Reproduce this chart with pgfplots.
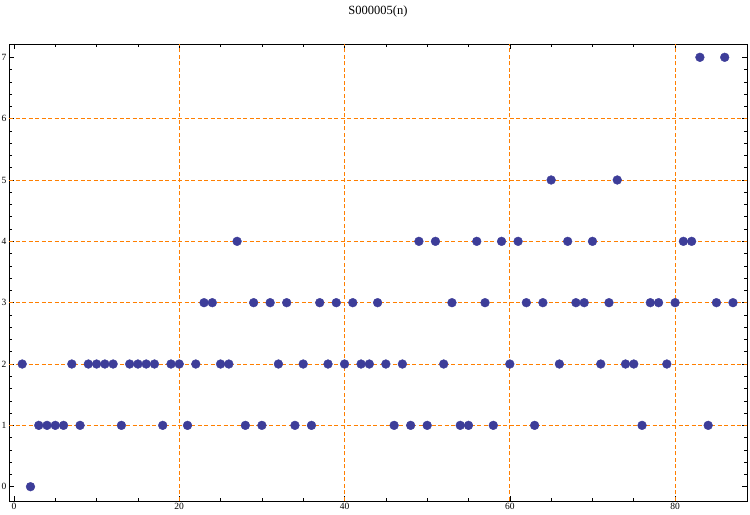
\documentclass[border=0pt]{standalone}
\usepackage{fontspec}
\setmainfont{Liberation Serif}
\usepackage{pgfplots}
\pgfplotsset{compat=1.18}
\definecolor{ptblue}{RGB}{61,61,153}
\definecolor{gridorange}{RGB}{255,127,0}
\begin{document}
\begin{tikzpicture}
\begin{axis}[
  name=ax,
  scale only axis,
  width=738bp, height=457bp,
  xmin=-0.6, xmax=88.7,
  ymin=-0.233, ymax=7.217,
  xtick={0,20,40,60,80},
  ytick={0,1,...,7},
  minor x tick num=3,
  minor y tick num=4,
  tick align=inside,
  major tick length=5bp,
  minor tick length=3bp,
  tick style={black, line width=0.6bp},
  axis line style={black, line width=0.8bp},
  xtick pos=both, ytick pos=both,
  xticklabel pos=lower, yticklabel pos=left,
  /pgf/number format/assume math mode=true,
  tick label style={font=\fontsize{9.5bp}{11bp}\selectfont, black},
  xticklabel style={yshift=1bp},
  yticklabel style={xshift=1bp},
  extra x ticks={20,40,60,80},
  extra x tick labels={},
  extra y ticks={1,2,3,4,5,6},
  extra y tick labels={},
  extra tick style={grid=major, major tick length=0pt,
    major grid style={gridorange, line width=0.9bp, dash pattern=on 4bp off 2.5bp}},
  title={S000005(n)},
  title style={font=\fontsize{12.5bp}{14bp}\selectfont, at={(axis description cs:0.5,1)}, anchor=center, yshift=27bp},
  clip=false,
]
\addplot[only marks, mark=*, mark size=4.4bp, mark options={draw=ptblue, fill=ptblue}] coordinates {
(1,2)(2,0)(3,1)(4,1)(5,1)(6,1)(7,2)(8,1)(9,2)(10,2)
(11,2)(12,2)(13,1)(14,2)(15,2)(16,2)(17,2)(18,1)(19,2)(20,2)
(21,1)(22,2)(23,3)(24,3)(25,2)(26,2)(27,4)(28,1)(29,3)(30,1)
(31,3)(32,2)(33,3)(34,1)(35,2)(36,1)(37,3)(38,2)(39,3)(40,2)
(41,3)(42,2)(43,2)(44,3)(45,2)(46,1)(47,2)(48,1)(49,4)(50,1)
(51,4)(52,2)(53,3)(54,1)(55,1)(56,4)(57,3)(58,1)(59,4)(60,2)
(61,4)(62,3)(63,1)(64,3)(65,5)(66,2)(67,4)(68,3)(69,3)(70,4)
(71,2)(72,3)(73,5)(74,2)(75,2)(76,1)(77,3)(78,3)(79,2)(80,3)
(81,4)(82,4)(83,7)(84,1)(85,3)(86,7)(87,3)
};
\end{axis}
\pgfresetboundingbox
\useasboundingbox ([xshift=-9bp,yshift=-14bp]ax.south west) rectangle ([xshift=3bp,yshift=44bp]ax.north east);
\end{tikzpicture}
\end{document}
